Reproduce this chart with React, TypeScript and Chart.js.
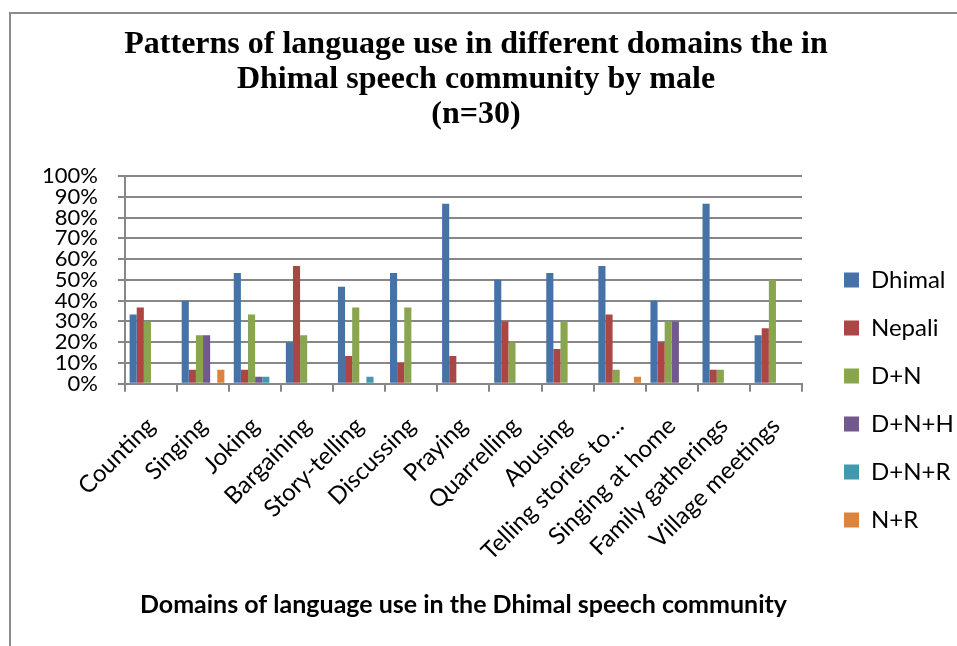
import { useEffect, useRef } from "react";
import { Chart, registerables } from "chart.js";
import type { Plugin } from "chart.js";

Chart.register(...registerables);

// Domains on the category axis
const domains = [
  "Counting",
  "Singing",
  "Joking",
  "Bargaining",
  "Story-telling",
  "Discussing",
  "Praying",
  "Quarrelling",
  "Abusing",
  "Telling stories to…",
  "Singing at home",
  "Family gatherings",
  "Village meetings",
];

// Share of male respondents (n=30), in percent
const dhimal = [33.3, 40, 53.3, 20, 46.7, 53.3, 86.7, 50, 53.3, 56.7, 40, 86.7, 23.3];
const nepali = [36.7, 6.7, 6.7, 56.7, 13.3, 10, 13.3, 30, 16.7, 33.3, 20, 6.7, 26.7];
const dPlusN = [30, 23.3, 33.3, 23.3, 36.7, 36.7, 0, 20, 30, 6.7, 30, 6.7, 50];
const dPlusNPlusH = [0, 23.3, 3.3, 0, 0, 0, 0, 0, 0, 0, 30, 0, 0];
const dPlusNPlusR = [0, 0, 3.3, 0, 3.3, 0, 0, 0, 0, 0, 0, 0, 0];
const nPlusR = [0, 6.7, 0, 0, 0, 0, 0, 0, 0, 3.3, 0, 0, 0];

const seriesNames = ["Dhimal", "Nepali", "D+N", "D+N+H", "D+N+R", "N+R"];
const seriesValues = [dhimal, nepali, dPlusN, dPlusNPlusH, dPlusNPlusR, nPlusR];
const seriesColors = ["#4572A7", "#AA4643", "#89A54E", "#71588F", "#4198AF", "#DB843D"];

const titleLines = [
  "Patterns of language use in different domains the in",
  "Dhimal speech community by male",
  "(n=30)",
];
const xAxisTitle = "Domains of language use in the Dhimal speech community";

const AXIS_GREY = "#878787";
const SANS = "Lato";

// Centre the heading a little left of the canvas middle, over plot + key
const titleShift: Plugin<"bar"> = {
  id: "titleShift",
  afterLayout(chart) {
    const block = (chart as any).titleBlock;
    if (block) block.right -= 27;
  },
};

export default function App() {
  const canvasRef = useRef<HTMLCanvasElement | null>(null);

  useEffect(() => {
    if (!canvasRef.current) return;
    const chart = new Chart(canvasRef.current, {
      type: "bar",
      data: {
        labels: domains,
        datasets: seriesNames.map((name, i) => ({
          label: name,
          data: seriesValues[i],
          backgroundColor: seriesColors[i],
          borderWidth: 0,
          categoryPercentage: 0.82,
          barPercentage: 1,
        })),
      },
      plugins: [titleShift],
      options: {
        animation: false,
        responsive: false,
        layout: { padding: { left: 11, right: 0, top: 0, bottom: 10 } },
        plugins: {
          title: {
            display: true,
            text: titleLines,
            color: "#000",
            font: { family: '"Liberation Serif"', size: 32, weight: "bold", lineHeight: 1.094 },
            padding: { top: 13, bottom: 44 },
          },
          legend: {
            position: "right",
            maxWidth: 137,
            // empty heading that pushes the key down beside the plot
            title: {
              display: true,
              text: " ",
              font: { size: 1, lineHeight: 1 },
              padding: { top: 0, bottom: 149 },
            },
            labels: {
              boxWidth: 15,
              boxHeight: 15,
              padding: 24,
              color: "#000",
              font: { family: SANS, size: 24 },
            },
          },
          tooltip: { enabled: false },
        },
        scales: {
          x: {
            afterFit: (scale) => {
              scale.paddingLeft = 0;
              scale.paddingRight = 0;
            },
            grid: {
              drawOnChartArea: false,
              drawTicks: true,
              tickLength: 8,
              color: AXIS_GREY,
              lineWidth: 2,
            },
            border: { color: AXIS_GREY, width: 2 },
            ticks: {
              color: "#000",
              font: { family: SANS, size: 24 },
              minRotation: 45,
              maxRotation: 45,
              autoSkip: false,
              padding: 20,
            },
            title: {
              display: true,
              text: xAxisTitle,
              color: "#000",
              font: { family: SANS, size: 25, weight: "bold" },
              padding: { top: 4, bottom: 16 },
            },
          },
          y: {
            min: 0,
            max: 100,
            ticks: {
              stepSize: 10,
              autoSkip: false,
              callback: (v) => `${v}%`,
              color: "#000",
              font: { family: SANS, size: 22, lineHeight: 1 },
              padding: 20,
            },
            grid: { color: AXIS_GREY, lineWidth: 2, tickLength: 7 },
            border: { color: AXIS_GREY, width: 2 },
          },
          // empty strip between the plot and the legend
          gutter: {
            type: "linear",
            position: "right",
            display: true,
            grid: { display: false, drawTicks: false },
            border: { display: false },
            ticks: { display: false },
            afterFit: (scale) => {
              scale.width = 18;
            },
          },
        },
      },
    });

    document.fonts
      .load(`22px ${SANS}`)
      .then(() => document.fonts.load(`bold 22px ${SANS}`))
      .then(() => document.fonts.load('bold 32px "Liberation Serif"'))
      .then(() => chart.update())
      .catch(() => {});

    return () => chart.destroy();
  }, []);

  return (
    <div
      style={{
        position: "fixed",
        left: 0,
        top: 0,
        width: 957,
        height: 646,
        background: "#fff",
        overflow: "hidden",
      }}
    >
      <div
        style={{
          position: "absolute",
          left: 9,
          top: 12,
          width: 960,
          height: 650,
          borderTop: "2px solid #8c8c8c",
          borderLeft: "2px solid #8c8c8c",
        }}
      />
      <canvas
        ref={canvasRef}
        width={946}
        height={632}
        style={{ position: "absolute", left: 11, top: 14, width: 946, height: 632 }}
      />
    </div>
  );
}
